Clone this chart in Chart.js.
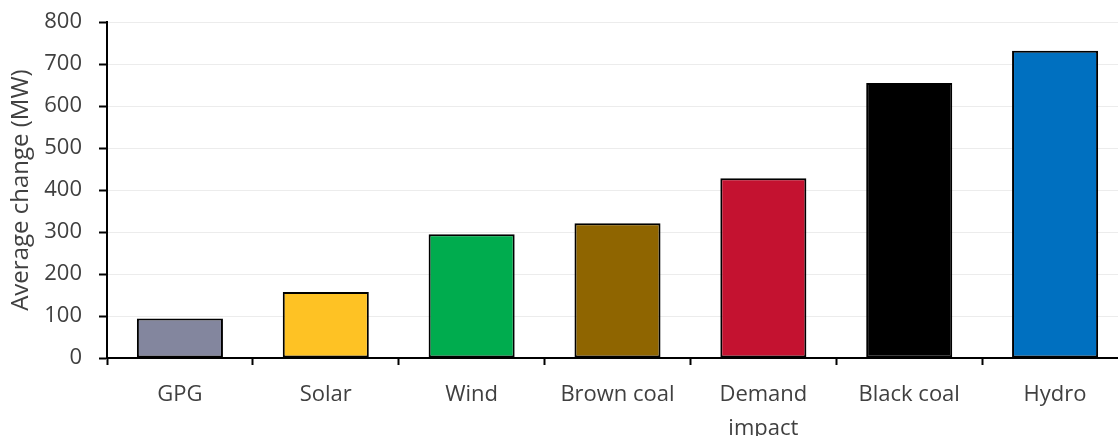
<!DOCTYPE html>
<html>
<head>
<meta charset="utf-8">
<script src="https://cdn.jsdelivr.net/npm/chart.js@4/dist/chart.umd.min.js"></script>
<style>
  html, body { margin: 0; padding: 0; background: #fff; overflow: hidden; }
  #wrap { width: 1118px; height: 436px; position: relative; overflow: hidden; }
  #c { position: absolute; left: 0; top: -8px; }
</style>
</head>
<body>
<div id="wrap"><canvas id="c" width="1128" height="444"></canvas></div>
<script>
// Average change in output by source (MW)
const categories = ['GPG', 'Solar', 'Wind', 'Brown coal', ['Demand', 'impact'], 'Black coal', 'Hydro'];
const averageChange = [94, 157, 295, 321, 428, 655, 732];
const barColors = ['#83869e', '#fec224', '#00ac4e', '#8f6500', '#c41230', '#000000', '#0070c0'];
const yTicks = [0, 100, 200, 300, 400, 500, 600, 700, 800];

const fontFamily = '"Open Sans", "Noto Sans", sans-serif';
const textColor = '#404040';

new Chart(document.getElementById('c'), {
  type: 'bar',
  data: {
    labels: categories,
    datasets: [{
      data: averageChange,
      backgroundColor: barColors,
      borderColor: '#000000',
      borderWidth: 2,
      borderSkipped: false,
      barPercentage: 0.59,
      categoryPercentage: 1.0
    }]
  },
  options: {
    responsive: false,
    animation: false,
    devicePixelRatio: 1,
    layout: { padding: { top: 3, right: 0, left: 0, bottom: 0 } },
    plugins: {
      legend: { display: false },
      tooltip: { enabled: false }
    },
    scales: {
      x: {
        offset: true,
        grid: {
          display: true,
          drawOnChartArea: false,
          drawTicks: true,
          tickLength: 7,
          tickColor: '#000000',
          tickWidth: 2,
          offset: true
        },
        border: { display: true, color: '#000000', width: 2 },
        ticks: {
          color: textColor,
          font: { family: fontFamily, size: 22, lineHeight: 1.55 },
          padding: 13,
          maxRotation: 0,
          autoSkip: false
        },
        afterFit: (s) => { s.height = 78; }
      },
      y: {
        min: 0,
        max: 800,
        afterBuildTicks: (s) => { s.ticks = yTicks.map(v => ({ value: v })); },
        grid: {
          color: '#ececec',
          lineWidth: 1,
          tickColor: '#000000',
          tickWidth: 2,
          tickLength: 8
        },
        border: { display: true, color: '#000000', width: 2 },
        ticks: {
          color: textColor,
          font: { family: fontFamily, size: 22 },
          padding: 17
        },
        title: {
          display: true,
          text: 'Average change (MW)',
          color: textColor,
          font: { family: fontFamily, size: 24 },
          padding: { top: 7, bottom: 2 }
        },
        afterFit: (s) => { s.width = 107; }
      }
    }
  }
});
</script>
</body>
</html>
